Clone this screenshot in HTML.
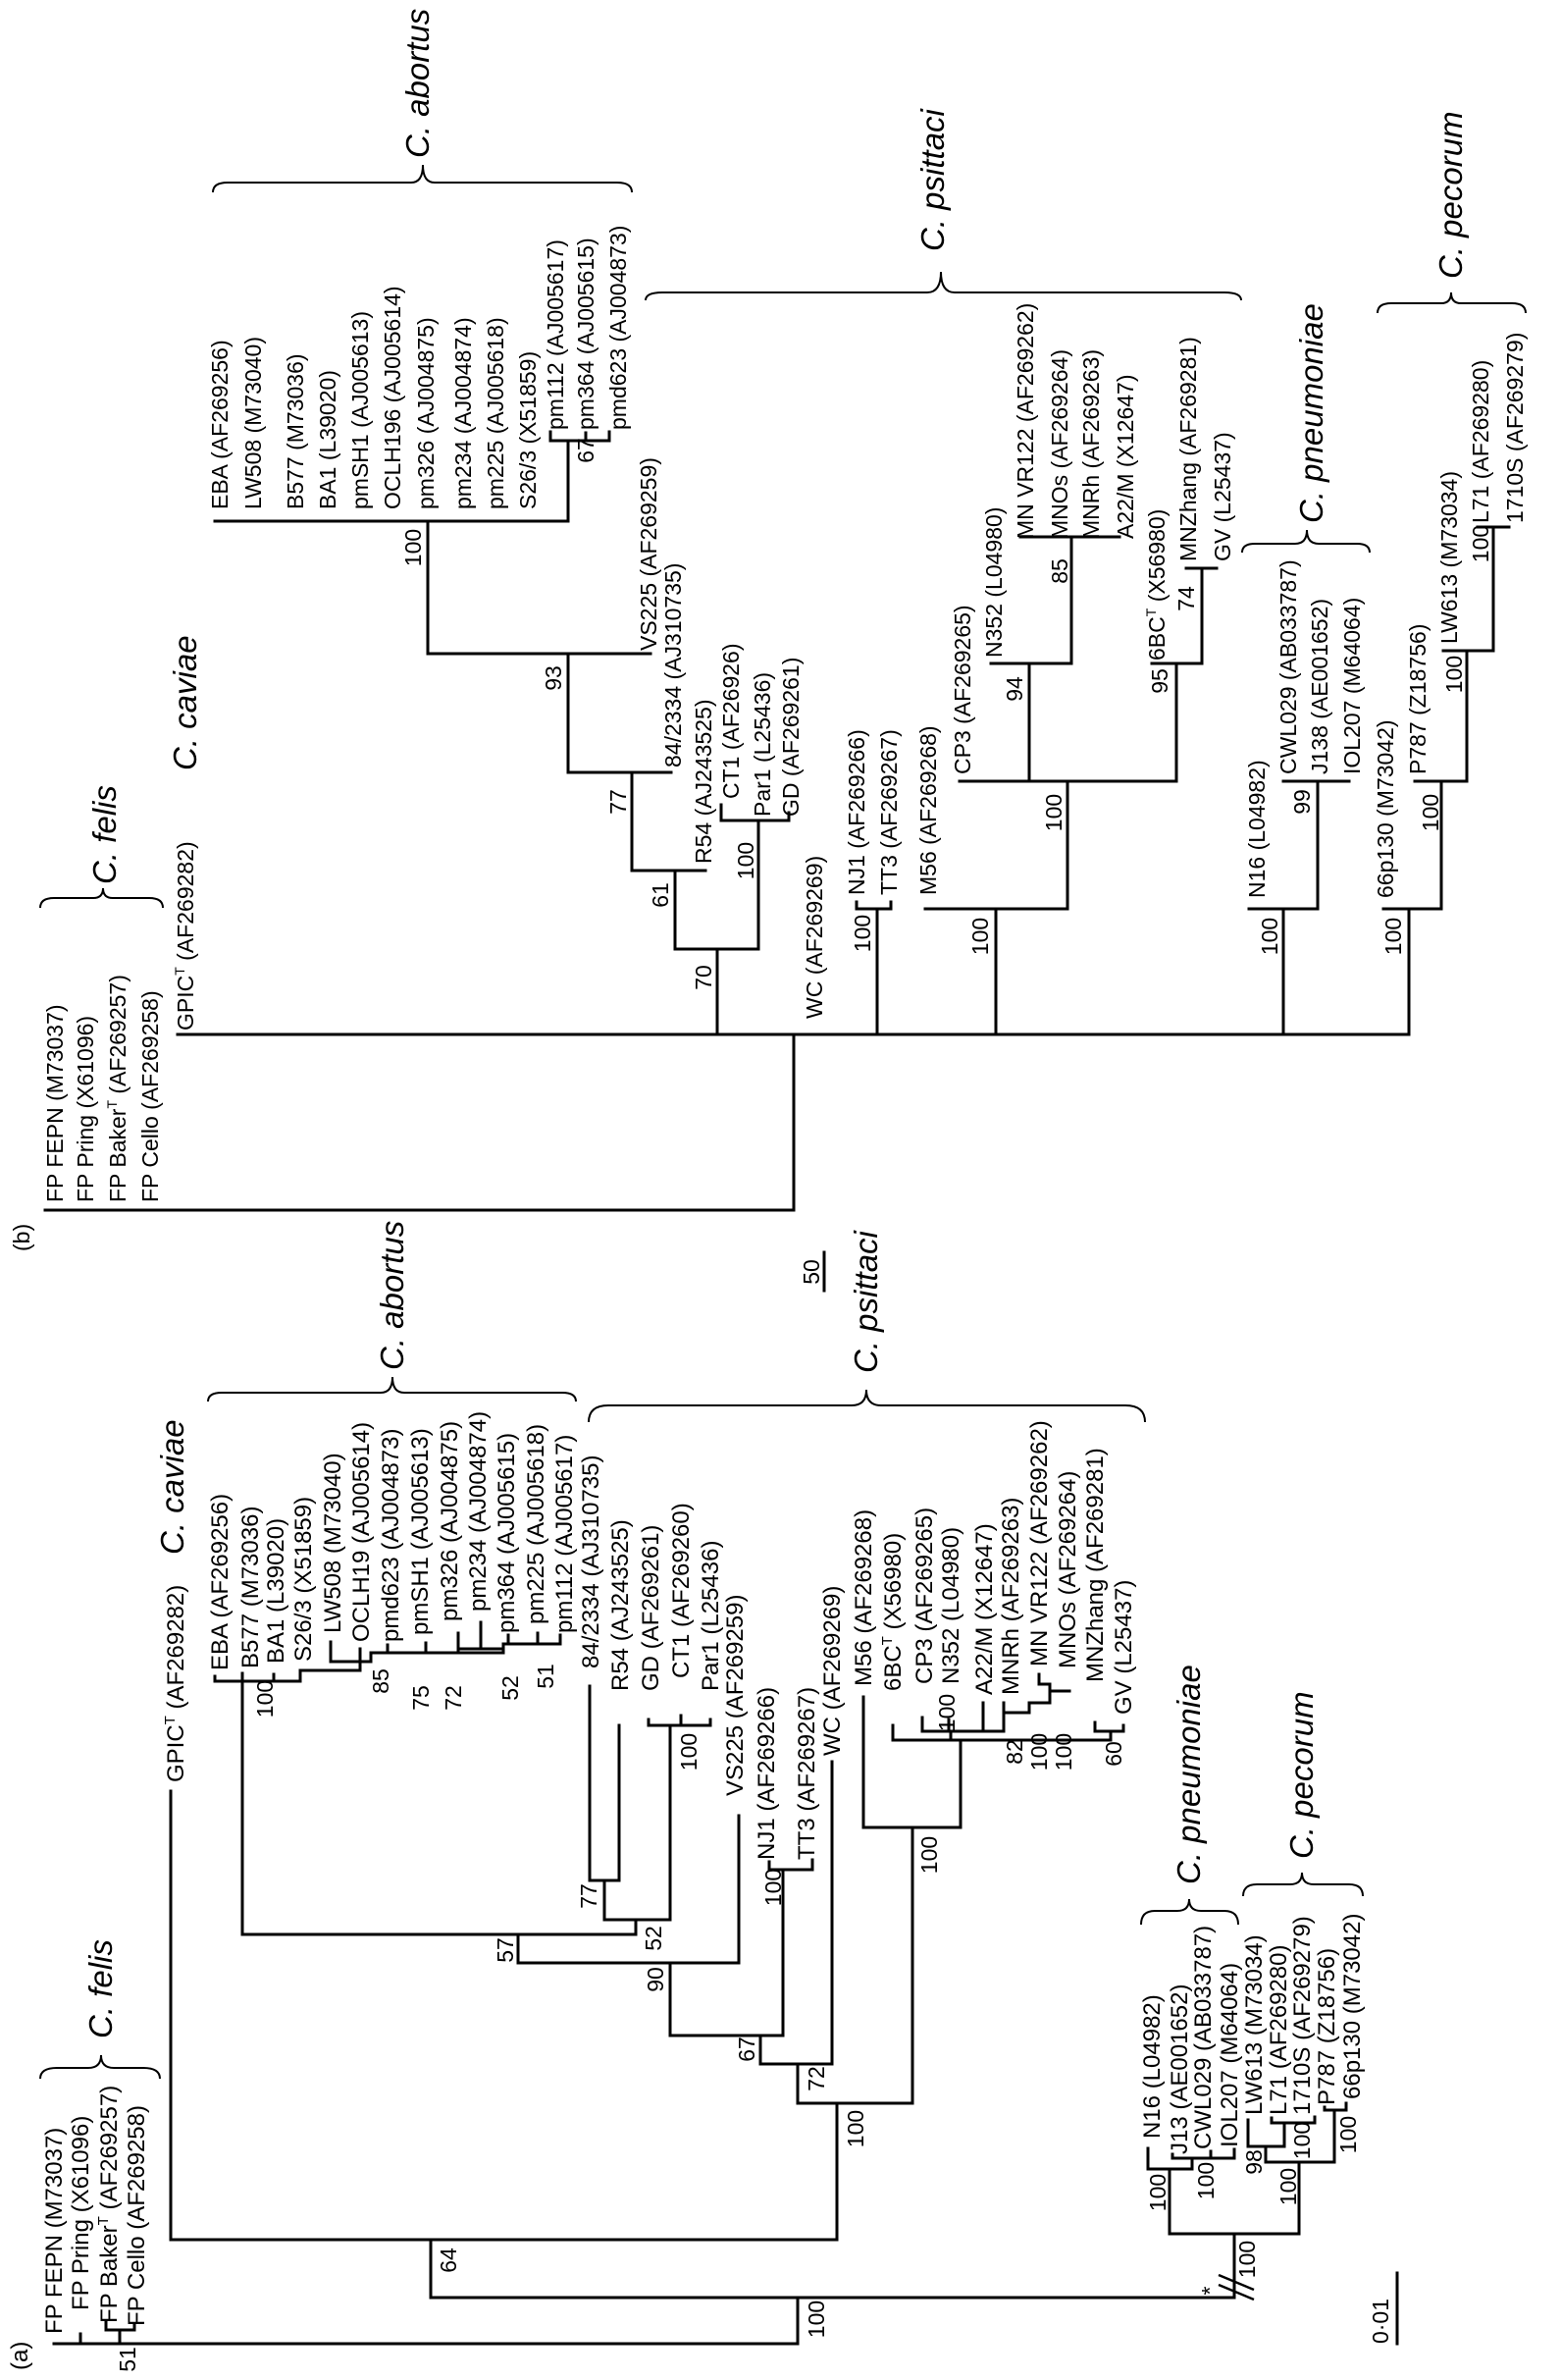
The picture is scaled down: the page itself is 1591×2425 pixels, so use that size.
<!DOCTYPE html>
<html><head><meta charset="utf-8"><style>
html,body{margin:0;padding:0;background:#fff;}
svg{display:block;}
text{font-family:"Liberation Sans",Arial,sans-serif;fill:#000;}
.a{font-size:24px;}
.b{font-size:23px;}
.s{font-size:33px;font-style:italic;}
.n{font-size:23px;text-anchor:middle;}
.l{stroke:#000;stroke-width:3;fill:none;stroke-linecap:square;}
.br{stroke:#000;stroke-width:2;fill:none;}
</style></head><body>
<svg width="1591" height="2425" viewBox="0 0 1591 2425" xmlns="http://www.w3.org/2000/svg">
<g transform="rotate(-90)">
<g class="a">
<text x="-2378" y="63">FP FEPN (M73037)</text>
<text x="-2354" y="90">FP Pring (X61096)</text>
<text x="-2367" y="119">FP Baker<tspan font-size="15" dy="-9">T</tspan><tspan dy="9"> (AF269257)</tspan></text>
<text x="-2370" y="147">FP Cello (AF269258)</text>
<text x="-1816" y="187">GPIC<tspan font-size="15" dy="-9">T</tspan><tspan dy="9"> (AF269282)</tspan></text>
<text x="-1702" y="232">EBA (AF269256)</text>
<text x="-1700" y="263">B577 (M73036)</text>
<text x="-1695" y="289">BA1 (L39020)</text>
<text x="-1693" y="317">S26/3 (X51859)</text>
<text x="-1664" y="347">LW508 (M73040)</text>
<text x="-1673" y="376">OCLH19 (AJ005614)</text>
<text x="-1673" y="406">pmd623 (AJ004873)</text>
<text x="-1666" y="436">pmSH1 (AJ005613)</text>
<text x="-1652" y="466">pm326 (AJ004875)</text>
<text x="-1642" y="495">pm234 (AJ004874)</text>
<text x="-1664" y="524">pm364 (AJ005615)</text>
<text x="-1655" y="554">pm225 (AJ005618)</text>
<text x="-1664" y="583">pm112 (AJ005617)</text>
<text x="-1700" y="610">84/2334 (AJ310735)</text>
<text x="-1723" y="640">R54 (AJ243525)</text>
<text x="-1723" y="671">GD (AF269261)</text>
<text x="-1710" y="702">CT1 (AF269260)</text>
<text x="-1723" y="732">Par1 (L25436)</text>
<text x="-1830" y="757">VS225 (AF269259)</text>
<text x="-1895" y="789">NJ1 (AF269266)</text>
<text x="-1895" y="830">TT3 (AF269267)</text>
<text x="-1789" y="856">WC (AF269269)</text>
<text x="-1718" y="888">M56 (AF269268)</text>
<text x="-1723" y="918">6BC<tspan font-size="15" dy="-9">T</tspan><tspan dy="9"> (X56980)</tspan></text>
<text x="-1716" y="950">CP3 (AF269265)</text>
<text x="-1716" y="977">N352 (L04980)</text>
<text x="-1727" y="1011">A22/M (X12647)</text>
<text x="-1727" y="1038">MNRh (AF269263)</text>
<text x="-1698" y="1067">MN VR122 (AF269262)</text>
<text x="-1700" y="1096">MNOs (AF269264)</text>
<text x="-1714" y="1124">MNZhang (AF269281)</text>
<text x="-1747" y="1153">GV (L25437)</text>
<text x="-2179" y="1182">N16 (L04982)</text>
<text x="-2195" y="1210">J13 (AE001652)</text>
<text x="-2190" y="1234">CWL029 (AB033787)</text>
<text x="-2188" y="1261">IOL207 (M64064)</text>
<text x="-2155" y="1286">LW613 (M73034)</text>
<text x="-2155" y="1311">L71 (AF269280)</text>
<text x="-2155" y="1335">1710S (AF269279)</text>
<text x="-2145" y="1360">P787 (Z18756)</text>
<text x="-2139" y="1386">66p130 (M73042)</text>
<text x="-2415" y="28">(a)</text>
</g>
<g class="n">
<text x="-2404" y="138">51</text>
<text x="-2303" y="465">64</text>
<text x="-2363" y="840">100</text>
<text x="-2169" y="880">100</text>
<text x="-2118" y="840">72</text>
<text x="-2088" y="769">67</text>
<text x="-2017" y="676">90</text>
<text x="-1987" y="523">57</text>
<text x="-1975" y="674">52</text>
<text x="-1932" y="608">77</text>
<text x="-1890" y="955">100</text>
<text x="-1923" y="796">100</text>
<text x="-1731" y="278">100</text>
<text x="-1713" y="396">85</text>
<text x="-1730" y="437">75</text>
<text x="-1730" y="470">72</text>
<text x="-1720" y="528">52</text>
<text x="-1708" y="564">51</text>
<text x="-1785" y="710">100</text>
<text x="-1745" y="973">100</text>
<text x="-1785" y="1042">82</text>
<text x="-1785" y="1067">100</text>
<text x="-1785" y="1092">100</text>
<text x="-1787" y="1143">60</text>
<text x="-2302" y="1279">100</text>
<text x="-2234" y="1188">100</text>
<text x="-2222" y="1237">100</text>
<text x="-2228" y="1321">100</text>
<text x="-2203" y="1286">98</text>
<text x="-2181" y="1335">100</text>
<text x="-2175" y="1382">100</text>
<text x="-2334" y="1241">*</text>
<text x="-2365" y="1415">0·01</text>
</g>
<g class="s">
<text x="-2077" y="114">C. felis</text>
<text x="-1584" y="187">C. caviae</text>
<text x="-1396" y="411">C. abortus</text>
<text x="-1399" y="894">C. psittaci</text>
<text x="-1920" y="1223">C. pneumoniae</text>
<text x="-1894" y="1338">C. pecorum</text>
</g>

<g class="b">
<text x="-1225" y="64">FP FEPN (M73037)</text>
<text x="-1225" y="95">FP Pring (X61096)</text>
<text x="-1225" y="128">FP Baker<tspan font-size="14" dy="-9">T</tspan><tspan dy="9"> (AF269257)</tspan></text>
<text x="-1225" y="161">FP Cello (AF269258)</text>
<text x="-1050" y="197">GPIC<tspan font-size="14" dy="-9">T</tspan><tspan dy="9"> (AF269282)</tspan></text>
<text x="-519" y="232">EBA (AF269256)</text>
<text x="-519" y="266">LW508 (M73040)</text>
<text x="-519" y="309">B577 (M73036)</text>
<text x="-519" y="342">BA1 (L39020)</text>
<text x="-519" y="375">pmSH1 (AJ005613)</text>
<text x="-519" y="408">OCLH196 (AJ005614)</text>
<text x="-519" y="442">pm326 (AJ004875)</text>
<text x="-519" y="480">pm234 (AJ004874)</text>
<text x="-519" y="513">pm225 (AJ005618)</text>
<text x="-519" y="546">S26/3 (X51859)</text>
<text x="-438" y="574">pm112 (AJ005617)</text>
<text x="-438" y="605">pm364 (AJ005615)</text>
<text x="-438" y="638">pmd623 (AJ004873)</text>
<text x="-663" y="669">VS225 (AF269259)</text>
<text x="-782" y="694">84/2334 (AJ310735)</text>
<text x="-880" y="725">R54 (AJ243525)</text>
<text x="-814" y="753">CT1 (AF26926)</text>
<text x="-832" y="785">Par1 (L25436)</text>
<text x="-832" y="814">GD (AF269261)</text>
<text x="-1038" y="838">WC (AF269269)</text>
<text x="-912" y="881">NJ1 (AF269266)</text>
<text x="-912" y="914">TT3 (AF269267)</text>
<text x="-912" y="954">M56 (AF269268)</text>
<text x="-789" y="989">CP3 (AF269265)</text>
<text x="-670" y="1021">N352 (L04980)</text>
<text x="-549" y="1053">MN VR122 (AF269262)</text>
<text x="-549" y="1088">MNOs (AF269264)</text>
<text x="-549" y="1120">MNRh (AF269263)</text>
<text x="-549" y="1155">A22/M (X12647)</text>
<text x="-673" y="1187">6BC<tspan font-size="14" dy="-9">T</tspan><tspan dy="9"> (X56980)</tspan></text>
<text x="-572" y="1219">MNZhang (AF269281)</text>
<text x="-572" y="1254">GV (L25437)</text>
<text x="-915" y="1289">N16 (L04982)</text>
<text x="-789" y="1321">CWL029 (AB033787)</text>
<text x="-789" y="1353">J138 (AE001652)</text>
<text x="-789" y="1386">IOL207 (M64064)</text>
<text x="-915" y="1420">66p130 (M73042)</text>
<text x="-789" y="1453">P787 (Z18756)</text>
<text x="-656" y="1485">LW613 (M73034)</text>
<text x="-533" y="1517">L71 (AF269280)</text>
<text x="-533" y="1552">1710S (AF269279)</text>
<text x="-1275" y="30">(b)</text>
</g>
<g class="n">
<text x="-996" y="725">70</text>
<text x="-912" y="681">61</text>
<text x="-817" y="638">77</text>
<text x="-691" y="572">93</text>
<text x="-558" y="429">100</text>
<text x="-459" y="605">67</text>
<text x="-877" y="768">100</text>
<text x="-951" y="887">100</text>
<text x="-954" y="1007">100</text>
<text x="-828" y="1082">100</text>
<text x="-702" y="1042">94</text>
<text x="-582" y="1088">85</text>
<text x="-694" y="1190">95</text>
<text x="-610" y="1217">74</text>
<text x="-954" y="1302">100</text>
<text x="-817" y="1335">99</text>
<text x="-954" y="1428">100</text>
<text x="-828" y="1466">100</text>
<text x="-687" y="1490">100</text>
<text x="-554" y="1517">100</text>
<text x="-1296" y="835">50</text>
</g>
<g class="s">
<text x="-901" y="118">C. felis</text>
<text x="-785" y="200">C. caviae</text>
<text x="-161" y="437">C. abortus</text>
<text x="-256" y="962">C. psittaci</text>
<text x="-533" y="1348">C. pneumoniae</text>
<text x="-284" y="1490">C. pecorum</text>
</g>
</g>

<path class="l" d="
M55 2388 H813 M82 2388 V2378
M122 2388 V2374 M108 2374 H137 M108 2374 V2366 M137 2374 V2368
M813 2388 V2341 M439 2341 H1258
M439 2341 V2282 M174 2282 H853 M174 2282 V1825
M853 2282 V2143 M813 2143 H930
M930 2143 V1862 M880 1862 H979 M880 1862 V1729
M979 1862 V1773 M910 1773 H1132 M910 1773 V1758
M969 1773 V1764 M940 1764 H1023 M940 1764 V1750 M967 1764 V1752 M1002 1764 V1735
M1023 1764 V1735 M1023 1745 H1049 M1049 1745 V1735 H1070 M1070 1735 V1716 M1059 1716 H1070 M1059 1716 V1706 M1070 1723 H1090
M1132 1773 V1764 M1116 1764 H1145 M1116 1764 V1755 M1145 1764 V1758
M813 2143 V2103 M775 2103 H848 M848 2103 V1795
M775 2103 V2074 M683 2074 H798
M798 2074 V1905 M784 1905 H828 M784 1905 V1897 M828 1905 V1895
M683 2074 V2000 M528 2000 H753 M753 2000 V1850
M528 2000 V1971 M247 1971 H648 M247 1971 V1705
M648 1971 V1956 M616 1956 H683 M683 1956 V1758
M661 1758 H724 M661 1758 V1752 M694 1758 V1748 M724 1758 V1752
M616 1956 V1916 M601 1916 H631 M601 1916 V1718 M631 1916 V1758
M219 1713 H306 M219 1713 V1708 M279 1713 V1706 M306 1713 V1702
M306 1702 H367 M367 1702 V1693 M337 1693 H378 M337 1693 V1673 M367 1693 V1680
M378 1693 V1684 M378 1684 H513 M395 1684 V1676 M434 1684 V1674
M467 1684 V1664 M467 1680 H513 M490 1680 V1653
M513 1684 V1675 H571 M518 1675 V1666 M548 1675 V1664 M571 1675 V1666
M1258 2341 V2276 M1192 2276 H1324
M1192 2276 V2210 M1170 2210 H1215 M1170 2210 V2189
M1215 2210 V2199 M1195 2199 H1258 M1195 2199 V2195 M1234 2199 V2192 M1258 2199 V2190
M1324 2276 V2203 M1290 2203 H1360
M1290 2203 V2187 M1272 2187 H1309 M1272 2187 V2160
M1309 2187 V2163 M1296 2163 H1340 M1296 2163 V2158 M1340 2163 V2157
M1360 2203 V2150 M1350 2150 H1372 M1350 2150 V2147 M1372 2150 V2143
M1424 2316 V2388
"/>
<path d="M1242 2318 L1278 2333 M1242 2328 L1278 2343" stroke="#000" stroke-width="2.5" fill="none"/>

<path class="l" d="
M46 1233 H809 M809 1233 V1054 M181 1054 H1436
M731 1054 V967 M688 967 H773 M688 967 V887 M644 887 H719
M644 887 V787 M579 787 H684 M579 787 V666 M436 666 H663
M436 666 V531 M219 531 H579 M579 531 V449 M561 449 H621 M561 449 V440 M597 449 V441 M621 449 V440
M773 967 V836 M735 836 H804 M735 836 V820 M804 836 V828
M894 1054 V926 M873 926 H908 M873 926 V919 M908 926 V919
M1015 1054 V926 M943 926 H1088 M1088 926 V796 M978 796 H1199
M1049 796 V676 M1010 676 H1092 M1092 676 V547 M1040 547 H1141
M1199 796 V676 M1174 676 H1225 M1225 676 V579 M1209 579 H1240
M1308 1054 V926 M1273 926 H1343 M1343 926 V796 M1308 796 H1375
M1436 1054 V926 M1410 926 H1469 M1469 926 V796 M1442 796 H1495
M1495 796 V663 M1471 663 H1522 M1522 663 V537 M1506 537 H1538
M840 1276 V1315
"/>

<path class="br" d="
M41 2118 Q41 2107 58 2107 L90 2107 Q103 2107 103 2094 Q103 2107 116 2107 L146 2107 Q163 2107 163 2118
M212 1428 Q212 1419 226 1419 L388 1419 Q400 1419 400 1403 Q400 1419 412 1419 L573 1419 Q587 1419 587 1428
M600 1449 Q600 1432 620 1432 L868 1432 Q883 1432 883 1416 Q883 1432 898 1432 L1147 1432 Q1167 1432 1167 1449
M1163 1961 Q1163 1947 1177 1947 L1200 1947 Q1212 1947 1212 1935 Q1212 1947 1224 1947 L1248 1947 Q1262 1947 1262 1961
M1267 1932 Q1267 1920 1281 1920 L1315 1920 Q1327 1920 1327 1908 Q1327 1920 1339 1920 L1375 1920 Q1389 1920 1389 1932
M41 925 Q41 915 55 915 L95 915 Q105 915 105 905 Q105 915 115 915 L152 915 Q166 915 166 925
M217 196 Q217 186 232 186 L419 186 Q431 186 431 168 Q431 186 443 186 L629 186 Q644 186 644 196
M658 306 Q658 298 675 298 L945 298 Q959 298 959 277 Q959 298 973 298 L1248 298 Q1265 298 1265 306
M1266 563 Q1266 554 1279 554 L1320 554 Q1332 554 1332 540 Q1332 554 1344 554 L1383 554 Q1396 554 1396 563
M1404 319 Q1404 309 1418 309 L1469 309 Q1479 309 1479 298 Q1479 309 1489 309 L1541 309 Q1555 309 1555 319
"/>
</svg>
</body></html>
